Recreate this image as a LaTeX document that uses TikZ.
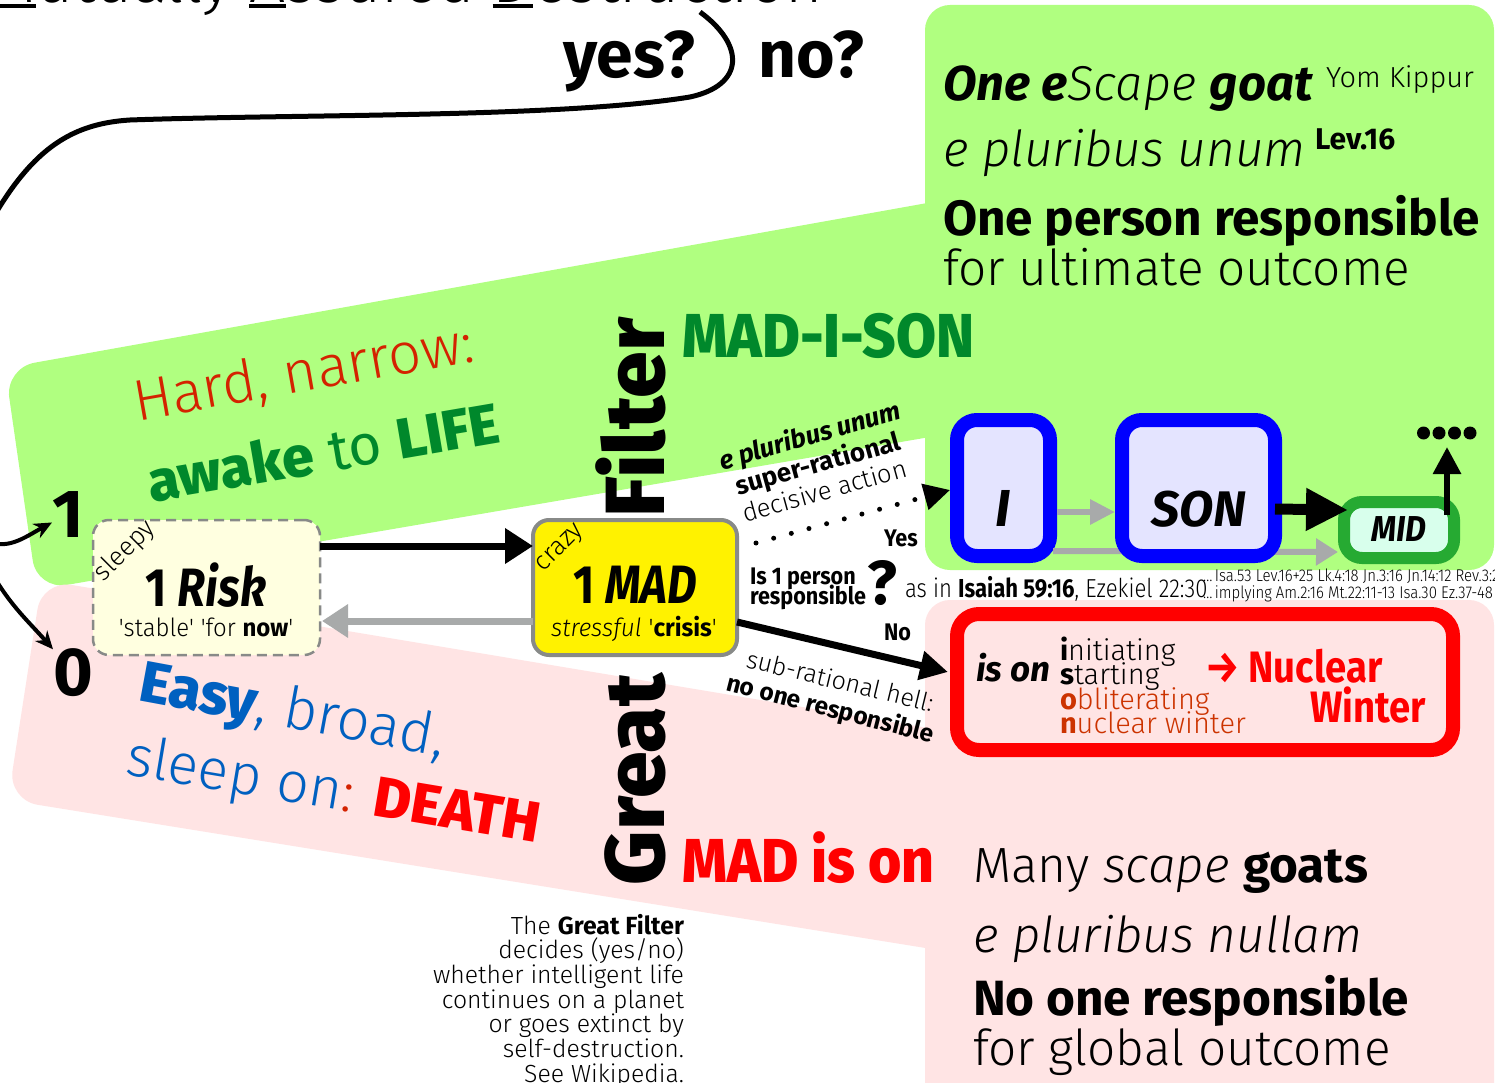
\documentclass[tikz,border=0pt]{standalone}
\usepackage{fontspec}
\usepackage{graphicx}
\usetikzlibrary{arrows.meta,calc}
\setmainfont{Fira Sans}[UprightFont=* Light, ItalicFont=* Light Italic, BoldFont=* Bold, BoldItalicFont=* Bold Italic]
\newfontfamily\rg{Fira Sans}
\newfontfamily\xb{Fira Sans ExtraBold}
\newcommand\fs[1]{\fontsize{#1}{#1}\selectfont}
\newcommand\cx[2]{\scalebox{#1}[1]{#2}}
\newlength\ulw
\newcommand\myul[1]{\settowidth\ulw{#1}\rlap{\rule[-5pt]{\ulw}{4pt}}#1}
\newcommand\q{\textquotesingle}
\definecolor{bandgreen}{RGB}{176,255,128}
\definecolor{bandpink}{RGB}{255,228,228}
\definecolor{riskfill}{RGB}{255,255,224}
\definecolor{boxgray}{RGB}{136,138,136}
\definecolor{arrgray}{RGB}{168,170,170}
\definecolor{ifill}{RGB}{228,228,255}
\definecolor{midgreen}{RGB}{38,170,50}
\definecolor{midfill}{RGB}{216,255,236}
\definecolor{lifegreen}{RGB}{0,136,43}
\definecolor{hardred}{RGB}{212,34,0}
\definecolor{easyblue}{RGB}{0,96,192}
\definecolor{obl}{RGB}{204,51,0}
\begin{document}
\begin{tikzpicture}[x=1pt,y=-1pt,
  every node/.style={inner sep=0pt,outer sep=0pt},
  riskbox/.style={draw=boxgray,dash pattern=on 10pt off 6pt,line width=2.5pt,fill=riskfill,rounded corners=16pt,minimum width=227pt,minimum height=135pt},
  madbox/.style={draw=boxgray,line width=4pt,fill=yellow,rounded corners=16pt,minimum width=204pt,minimum height=135pt},
  bluebox/.style={draw=blue,line width=14pt,fill=ifill,rounded corners=20pt,minimum height=136pt},
  midbox/.style={draw=midgreen,line width=12pt,fill=midfill,rounded corners=18pt,minimum width=110pt,minimum height=56pt},
  nucbox/.style={draw=red,line width=14pt,fill=bandpink,rounded corners=22pt,minimum width=496pt,minimum height=136pt},
  blkarr/.style={line width=7pt,-{Triangle[length=28pt,width=34pt]}},
  grayarr/.style={draw=arrgray,line width=7pt,-{Triangle[length=26pt,width=32pt]}},
  lbl/.style={anchor=base west}]
\useasboundingbox (0,0) rectangle (1495,1083);
\clip (0,0) rectangle (1495,1083);
\fill[white] (0,0) rectangle (1495,1083);
% bands
\fill[bandgreen,rounded corners=30pt] (5,368) -- (1000,190) -- (1000,425) -- (37,590) -- cycle;
\fill[bandpink,rounded corners=30pt] (42,580) -- (1000,740) -- (1000,960) -- (8,800) -- cycle;
\fill[bandgreen,rounded corners=25pt] (925,5) rectangle (1494,570);
\fill[bandpink,rounded corners=25pt] (925,600) rectangle (1494,1110);
% title
\node[lbl,font=\fs{64}] (title) at (-13,3) {\myul{M}utually \myul{A}ssured \myul{D}estruction};
\node[lbl,font=\bfseries\fs{66}] (yes) at (563,78) {yes?};
\node[lbl,font=\bfseries\fs{66}] (no) at (758,78) {no?};
% band texts
\node[lbl,rotate=10,text=hardred,font=\fs{58}] (hard) at (137,421) {Hard, narrow:};
\node[lbl,rotate=9.7,text=lifegreen,font=\fs{57}] (awake) at (151,502) {{\xb awake} {\rg to} {\xb LIFE}};
\node[lbl,rotate=-10.5,text=easyblue,font=\fs{58}] (easy) at (137,700) {{\xb Easy}, broad,};
\node[lbl,rotate=-9.5,text=easyblue,font=\fs{57}] (sleep) at (124,774) {sleep on\textcolor{hardred}{:} \textcolor{red}{\xb DEATH}};
\node[lbl,rotate=90,font=\xb\fs{84}] (great) at (664,885) {Great};
\node[anchor=base east,rotate=90,font=\xb\fs{84}] (filter) at (664,318) {Filter};
\node[lbl,text=lifegreen,font=\xb\fs{62}] (madison) at (682,357) {\cx{0.935}{MAD-I-SON}};
\node[lbl,text=red,font=\xb\fs{62}] (madison2) at (682,882) {\cx{0.92}{MAD is on}};
% green box texts
\node[lbl,font=\fs{49}] (g1) at (943,101) {\textbf{\textit{One e}}\textit{Scape} \textbf{\textit{goat}}};
\node[lbl,font=\fs{29}] (g1s) at (1326,88) {Yom Kippur};
\node[lbl,font=\itshape\fs{49.5}] (g2) at (943,167) {e pluribus unum};
\node[lbl,font=\bfseries\fs{30}] (g2s) at (1315,150) {Lev.16};
\node[lbl,font=\bfseries\fs{49.5}] (g3) at (943,236) {One person responsible};
\node[lbl,font=\fs{49.5}] (g4) at (943,285) {for ultimate outcome};
% pink box texts
\node[lbl,font=\fs{49.5}] (p1) at (973,882) {Many \textit{scape} \textbf{goats}};
\node[lbl,font=\itshape\fs{49.5}] (p2) at (973,952) {e pluribus nullam};
\node[lbl,font=\bfseries\fs{49.5}] (p3) at (973,1015) {No one responsible};
\node[lbl,font=\fs{49.5}] (p4) at (973,1065) {for global outcome};
% bottom paragraph
\node[anchor=north east,align=right,font=\fontsize{24.8}{24.7}\selectfont] (wiki) at (684,914)
 {The \textbf{Great Filter}\\decides (yes/no)\\whether intelligent life\\continues on a planet\\or goes extinct by\\self-destruction.\\See Wikipedia.};
% references
\node[lbl,font=\fs{26}] (asin) at (905,597) {\cx{0.85}{as in \textbf{Isaiah 59:16}, Ezekiel 22:30}};
\node[anchor=north west,align=left,font=\fontsize{17}{17}\selectfont] (refs) at (1203,569)
 {\cx{0.88}{\dots\,Isa.53 Lev.16+25 Lk.4:18 Jn.3:16 Jn.14:12 Rev.3:21}\\\cx{0.88}{\dots\,implying Am.2:16 Mt.22:11-13 Isa.30 Ez.37-48}};
% decision labels
\node[lbl,rotate=16,font=\bfseries\itshape\fs{26}] (epu) at (722,470) {e pluribus unum};
\node[lbl,rotate=15.5,font=\bfseries\fs{26}] (super) at (738,495) {super-rational};
\node[lbl,rotate=15.5,font=\fs{25.5}] (decis) at (745,522) {decisive action};
\node[lbl,font=\bfseries\fs{24}] (yeslbl) at (884,546) {\cx{0.9}{Yes}};
\node[lbl,font=\bfseries\fs{24}] (nolbl) at (884,640) {\cx{0.9}{No}};
\node[lbl,font=\bfseries\fs{24}] (is1) at (750,584) {\cx{0.9}{Is 1 person}};
\node[lbl,font=\bfseries\fs{24}] (resp) at (750,604) {\cx{0.9}{responsible}};
\node[lbl,font=\bfseries\fs{62}] (qm) at (867,604) {?};
\node[lbl,rotate=-13.6,font=\fs{25}] (subr) at (745,667) {sub-rational hell:};
\node[lbl,rotate=-14.4,font=\bfseries\fs{24.5}] (noone) at (725,690) {no one responsible};
% numbers
\node[lbl,font=\bfseries\fs{68}] (one) at (52,537) {1};
\node[lbl,font=\bfseries\fs{68}] (zero) at (53,695) {0};
% loop curve
\coordinate (cstart) at (700,12);
\coordinate (loop) at (-60,330);
\draw[line width=5pt] (cstart) .. controls (745,45) and (745,85) .. (690,97)
  .. controls (560,118) and (300,114) .. (130,120)
  .. controls (50,125) and (5,170) .. (loop);
\draw[line width=4pt,-{Stealth[length=18pt,width=16pt]}] (loop) .. controls (-50,600) and (10,545) .. (one);
\draw[line width=4pt,-{Stealth[length=18pt,width=16pt]}] (loop) .. controls (-50,560) and (10,600) .. (zero);
% boxes
\node[riskbox] (risk) at (206.5,587.5) {};
\node[madbox] (mad) at (635,587.5) {};
\node[midbox] (mid) at (1399,530) {};
\node[nucbox] (nuc) at (1205,682) {};
\node[bluebox,minimum width=93pt] (ibox) at (1003.5,488) {};
\draw[draw=arrgray,line width=6pt,-{Triangle[length=22pt,width=26pt]}] ([xshift=3pt,yshift=-63pt]ibox.east) -- ([xshift=-6pt,yshift=-22pt]mid.west);
\node[bluebox,minimum width=153pt] (son) at (1198.5,488) {};
% box texts
\node[font=\fs{26},rotate=45] (sleepy) at (125,551) {sleepy};
\node[anchor=base,font=\bfseries\fs{54}] (risktxt) at (206,606) {\cx{0.85}{1 \textit{Risk}}};
\node[anchor=base,font=\fs{25}] (stable) at (206,636) {\cx{0.96}{\q stable\q{} \q for \textbf{now}\q}};
\node[font=\fs{26},rotate=45] (crazy) at (561,549) {crazy};
\node[anchor=base,font=\bfseries\fs{54}] (madtxt) at (635,603) {\cx{0.85}{1 \textit{MAD}}};
\node[anchor=base,font=\fs{25}] (crisis) at (634,636) {\cx{0.97}{\textit{stressful} \q\textbf{crisis}\q}};
\node[anchor=base,font=\bfseries\itshape\fs{52}] (itxt) at (1003,526) {I};
\node[anchor=base,font=\bfseries\itshape\fs{50}] (sontxt) at (1199,526) {SON};
\node[anchor=base,font=\bfseries\itshape\fs{36}] (midtxt) at (1399,541) {\cx{0.9}{MID}};
\node[lbl,font=\bfseries\itshape\fs{35}] (ison) at (976,681) {is on};
\node[lbl,font=\fs{29}] (n1) at (1060,660) {\textbf{i}nitiating};
\node[lbl,font=\fs{29}] (n2) at (1060,684) {\textbf{s}tarting};
\node[lbl,font=\fs{29},text=obl] (n3) at (1060,709) {\textbf{o}bliterating};
\node[lbl,font=\fs{29},text=obl] (n4) at (1060,733) {\textbf{n}uclear winter};
\node[lbl,font=\bfseries\fs{44},text=red] (nuclear) at (1205,682) {\cx{0.87}{→ Nuclear}};
\node[anchor=base east,font=\bfseries\fs{44},text=red] (winter) at (1426,722) {\cx{0.87}{Winter}};
% dots
\foreach \dx in {1423.5,1439,1454.5,1470} \fill (\dx,433) circle (6.5pt);
\coordinate (dots) at (1447,447);
% arrows
\draw[grayarr] ([yshift=-33.5pt]mad.west) -- ([xshift=2pt,yshift=-33.5pt]risk.east);
\draw[draw=arrgray,line width=6pt,-{Triangle[length=25pt,width=24pt]}] ([xshift=7pt,yshift=-24pt]ibox.east) -- ([xshift=-7pt,yshift=-24pt]son.west);
\draw[blkarr] ([yshift=41.5pt]risk.east) -- ([yshift=41.5pt]mad.west);
\draw[line width=5pt,dash pattern=on 0pt off 18.3pt,line cap=round,-{Triangle[length=26pt,width=26pt]}] ([xshift=19pt,yshift=-23pt]mad.north east) -- ([xshift=-7pt,yshift=-2pt]ibox.west);
\draw[line width=7pt,-{Triangle[length=28pt,width=28pt]}] ([yshift=-34.5pt]mad.east) -- ([xshift=-9pt,yshift=10pt]nuc.west);
\draw[line width=11pt,-{Triangle[length=42pt,width=40pt]}] ([yshift=-21pt]son.east) -- ([xshift=4pt,yshift=20pt]mid.west);
\draw[line width=6pt,-{Triangle[length=27pt,width=27pt]}] ([xshift=48pt,yshift=15pt]mid.center) -- (dots);
\end{tikzpicture}
\end{document}
